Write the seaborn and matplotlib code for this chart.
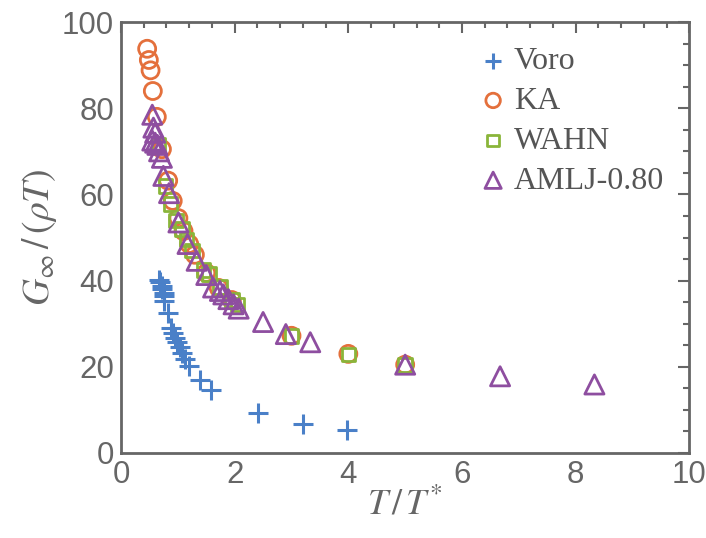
import numpy as np
import matplotlib
matplotlib.use("Agg")
import matplotlib.pyplot as plt
import seaborn as sns
from matplotlib.ticker import MultipleLocator

# data
voro_x = [0.66, 0.69, 0.72, 0.73, 0.75, 0.76, 0.76, 0.82, 0.88, 0.92, 0.95,
          0.99, 1.03, 1.07, 1.13, 1.20, 1.39, 1.58, 2.41, 3.20, 3.98]
voro_y = [40.2, 39.6, 38.8, 38.0, 37.2, 36.4, 35.3, 32.6, 29.1, 27.9, 26.7,
          25.7, 24.6, 23.2, 21.7, 20.3, 17.0, 14.7, 9.3, 6.8, 5.3]

ka_x = [0.46, 0.49, 0.52, 0.56, 0.63, 0.72, 0.83, 0.91, 1.01, 1.10, 1.20,
        1.30, 1.50, 1.72, 1.95, 3.0, 4.0, 5.0]
ka_y = [93.8, 91.2, 88.8, 84.0, 78.0, 70.5, 63.2, 58.5, 54.5, 51.5, 48.5,
        46.0, 41.8, 38.3, 35.5, 27.2, 23.0, 20.5]

wahn_x = [0.66, 0.78, 0.87, 0.97, 1.07, 1.15, 1.25, 1.45, 1.55, 1.74, 1.95,
          2.05, 3.0, 4.0, 5.0]
wahn_y = [71.5, 62.0, 57.8, 54.0, 52.0, 49.5, 47.0, 42.5, 41.5, 38.5, 35.5,
          34.5, 27.1, 22.9, 20.4]

amlj_x = [0.55, 0.57, 0.60, 0.55, 0.60, 0.64, 0.67, 0.72, 0.745, 0.845,
          1.01, 1.17, 1.33, 1.50, 1.62, 1.74, 1.80, 1.89, 1.98, 2.07,
          2.5, 2.9, 3.33, 5.0, 6.67, 8.33]
amlj_y = [78.5, 75.5, 74.3, 72.5, 72.0, 71.5, 70.0, 68.5, 64.3, 60.3,
          53.5, 48.5, 44.6, 41.3, 38.4, 37.6, 36.8, 35.7, 34.5, 33.5,
          30.4, 27.6, 25.7, 20.5, 17.8, 15.9]

series = [
    ("Voro", voro_x, voro_y, "+", "#4a80c8", 190),
    ("KA", ka_x, ka_y, "o", "#e4703c", 150),
    ("WAHN", wahn_x, wahn_y, "s", "#8ab53a", 95),
    ("AMLJ-0.80", amlj_x, amlj_y, "^", "#8e4ea0", 190),
]

sns.set_style("white")
plt.rcParams["mathtext.fontset"] = "stix"
grey = "#666666"

fig = plt.figure(figsize=(7.06, 5.38), dpi=100)
ax = fig.add_axes([0.1714, 0.158, 0.805, 0.801])

for name, xs, ys, mk, col, size in series:
    if mk == "+":
        # line markers take their colour from the face
        sns.scatterplot(x=xs, y=ys, ax=ax, marker=mk, s=size, color=col,
                        linewidth=2.2, label=name, zorder=3)
    else:
        sns.scatterplot(x=xs, y=ys, ax=ax, marker=mk, s=size, color=col,
                        facecolor="none", edgecolor=col, linewidth=2.0,
                        label=name, zorder=3)

ax.set_xlim(0, 10)
ax.set_ylim(0, 100)
ax.xaxis.set_major_locator(MultipleLocator(2))
ax.xaxis.set_minor_locator(MultipleLocator(0.4))
ax.yaxis.set_major_locator(MultipleLocator(20))
ax.yaxis.set_minor_locator(MultipleLocator(5))
ax.tick_params(which="both", direction="in", top=True, right=True,
               color=grey, width=1.5, labelcolor=grey, labelsize=22.5)
ax.tick_params(which="major", length=8, pad=5)
ax.tick_params(which="minor", length=4.5)
for lab in ax.get_xticklabels() + ax.get_yticklabels():
    lab.set_family("Liberation Sans")
for sp in ax.spines.values():
    sp.set_color(grey)
    sp.set_linewidth(2)

ax.set_xlabel(r"$T\,/\,T^{*}$", fontsize=26, color=grey, labelpad=-2)
ax.set_ylabel(r"$G_{\infty}\,/\,(\rho T)$", fontsize=27, color=grey, labelpad=2)

leg = ax.legend(loc="upper right", bbox_to_anchor=(0.995, 0.995), frameon=False,
                prop={"family": "Liberation Serif", "size": 23},
                markerscale=0.85, handletextpad=0.05, labelspacing=0.33,
                handlelength=1.2, borderaxespad=0.3)
for t in leg.get_texts():
    t.set_color("#555555")

fig.savefig("out.png", dpi=100)
